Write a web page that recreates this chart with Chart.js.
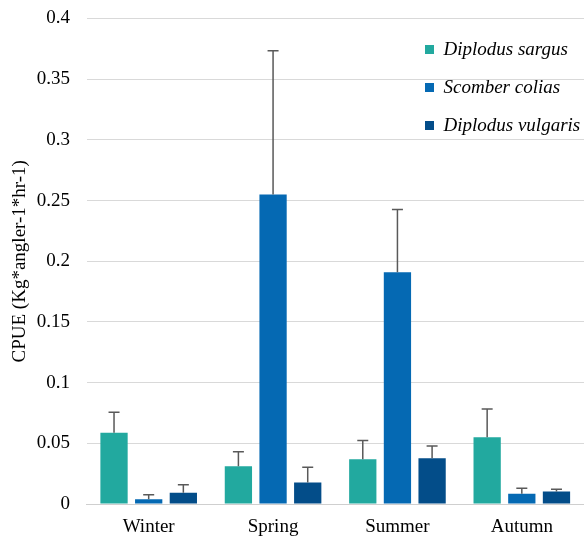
<!DOCTYPE html>
<html>
<head>
<meta charset="utf-8">
<script src="https://cdn.jsdelivr.net/npm/chart.js@4.4.0/dist/chart.umd.min.js"></script>
<style>
  html, body { margin: 0; padding: 0; background: #ffffff; }
  #wrap { width: 584px; height: 538px; }
</style>
</head>
<body>
<div id="wrap"><canvas id="c" width="584" height="538"></canvas></div>
<script>
const seasons = ['Winter', 'Spring', 'Summer', 'Autumn'];
const seriesNames = ['Diplodus sargus', 'Scomber colias', 'Diplodus vulgaris'];
const sargus = [0.0587, 0.031, 0.0368, 0.0549];
const colias = [0.0039, 0.255, 0.191, 0.0085];
const vulgaris = [0.0093, 0.0178, 0.0376, 0.0104];
const sargusErr = [0.0168, 0.012, 0.0156, 0.0233];
const coliasErr = [0.0038, 0.1184, 0.0516, 0.0044];
const vulgarisErr = [0.0066, 0.0124, 0.0101, 0.0017];
const yTickLabels = ['0', '0.05', '0.1', '0.15', '0.2', '0.25', '0.3', '0.35', '0.4'];
const yTitle = 'CPUE (Kg*angler-1*hr-1)';

const colors = ['#22A99F', '#0569B3', '#034D89'];
const FONT = "'Liberation Serif', 'Times New Roman', serif";

const errorBars = {
  id: 'errorBars',
  afterDatasetsDraw(chart) {
    const ctx = chart.ctx;
    const yScale = chart.scales.y;
    ctx.save();
    ctx.strokeStyle = '#595959';
    ctx.lineWidth = 1.5;
    chart.data.datasets.forEach((ds, di) => {
      const meta = chart.getDatasetMeta(di);
      meta.data.forEach((bar, i) => {
        const top = yScale.getPixelForValue(ds.data[i] + ds.errPlus[i]);
        const x = bar.x;
        ctx.beginPath();
        ctx.moveTo(x, bar.y);
        ctx.lineTo(x, top);
        ctx.moveTo(x - 5.5, top);
        ctx.lineTo(x + 5.5, top);
        ctx.stroke();
      });
    });
    ctx.restore();
  }
};

const legendPlace = {
  id: 'legendPlace',
  beforeDraw(chart) {
    const lg = chart.legend;
    if (!lg) return;
    lg.left = 406;
    lg.top = 21;
    lg.right = 584;
    lg.bottom = 160;
    lg.width = lg.right - lg.left;
    lg.height = lg.bottom - lg.top;
  }
};

new Chart(document.getElementById('c'), {
  type: 'bar',
  data: {
    labels: seasons,
    datasets: [
      { label: seriesNames[0], data: sargus, errPlus: sargusErr, backgroundColor: colors[0], borderWidth: 0 },
      { label: seriesNames[1], data: colias, errPlus: coliasErr, backgroundColor: colors[1], borderWidth: 0 },
      { label: seriesNames[2], data: vulgaris, errPlus: vulgarisErr, backgroundColor: colors[2], borderWidth: 0 }
    ]
  },
  options: {
    responsive: false,
    animation: false,
    devicePixelRatio: 1,
    categoryPercentage: 0.836,
    barPercentage: 0.787,
    layout: { padding: { left: 4, top: 18.5, right: 0, bottom: 0 } },
    plugins: {
      legend: {
        position: 'chartArea',
        align: 'start',
        labels: {
          boxWidth: 9,
          boxHeight: 9,
          padding: 19,
          color: '#000',
          font: { family: FONT, size: 19, style: 'italic' }
        }
      },
      tooltip: { enabled: false }
    },
    scales: {
      x: {
        grid: { display: false, drawTicks: false },
        border: { display: true, color: '#cfcfcf', width: 1 },
        ticks: { color: '#000', padding: 12, font: { family: FONT, size: 19 } },
        afterFit(scale) { scale.height = 34; }
      },
      y: {
        min: 0,
        max: 0.4,
        grid: { color: '#d9d9d9', lineWidth: 1, drawTicks: false },
        border: { display: false },
        ticks: {
          stepSize: 0.05,
          padding: 16.5,
          color: '#000',
          font: { family: FONT, size: 19 },
          callback: (v, i) => yTickLabels[i]
        },
        title: {
          display: true,
          text: yTitle,
          color: '#000',
          padding: { top: 4.6, bottom: 5.4 },
          font: { family: FONT, size: 19 }
        },
        afterFit(scale) {
          scale.width = 82.5;
          scale.paddingTop = 0;
          scale.paddingBottom = 0;
        }
      }
    }
  },
  plugins: [errorBars, legendPlace]
});
</script>
</body>
</html>
